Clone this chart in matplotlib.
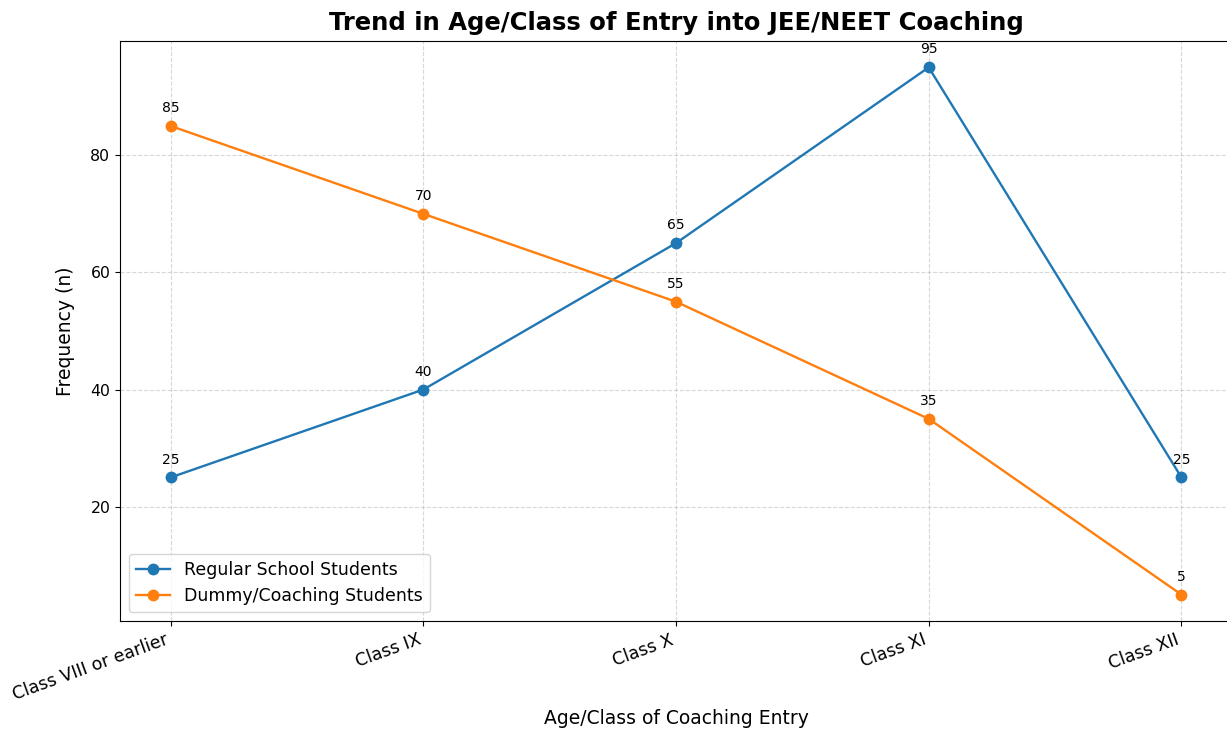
import matplotlib
matplotlib.use("Agg")
import matplotlib.pyplot as plt

# data
categories = ["Class VIII or earlier", "Class IX", "Class X", "Class XI", "Class XII"]
regular = [25, 40, 65, 95, 25]
dummy = [85, 70, 55, 35, 5]

fig = plt.figure(figsize=(12.27, 7.36), dpi=100)
ax = fig.add_axes([120 / 1227, 115 / 736, 1112 / 1227, 580 / 736])

x = list(range(len(categories)))
ax.plot(x, regular, marker="o", linewidth=1.7, markersize=7.5,
        label="Regular School Students")
ax.plot(x, dummy, marker="o", linewidth=1.7, markersize=7.5,
        label="Dummy/Coaching Students")

# value labels
for xi, v in zip(x, regular):
    ax.annotate(str(v), (xi, v), textcoords="offset points", xytext=(0, 10),
                ha="center", fontsize=10)
for xi, v in zip(x, dummy):
    ax.annotate(str(v), (xi, v), textcoords="offset points", xytext=(0, 10),
                ha="center", fontsize=10)

ax.set_xticks(x)
ax.set_xticklabels(categories, rotation=20, ha="right", fontsize=12.5)
ax.tick_params(axis="y", labelsize=11.3)
ax.set_yticks([20, 40, 60, 80])

ax.set_title("Trend in Age/Class of Entry into JEE/NEET Coaching",
             fontsize=17.5, fontweight="bold", pad=8)
ax.set_xlabel("Age/Class of Coaching Entry", fontsize=13.5, labelpad=4)
ax.set_ylabel("Frequency (n)", fontsize=13.5, labelpad=11)
ax.grid(True, linestyle="--", alpha=0.5)
ax.legend(loc="lower left", fontsize=12.5)

fig.savefig("out.png", dpi=100)
